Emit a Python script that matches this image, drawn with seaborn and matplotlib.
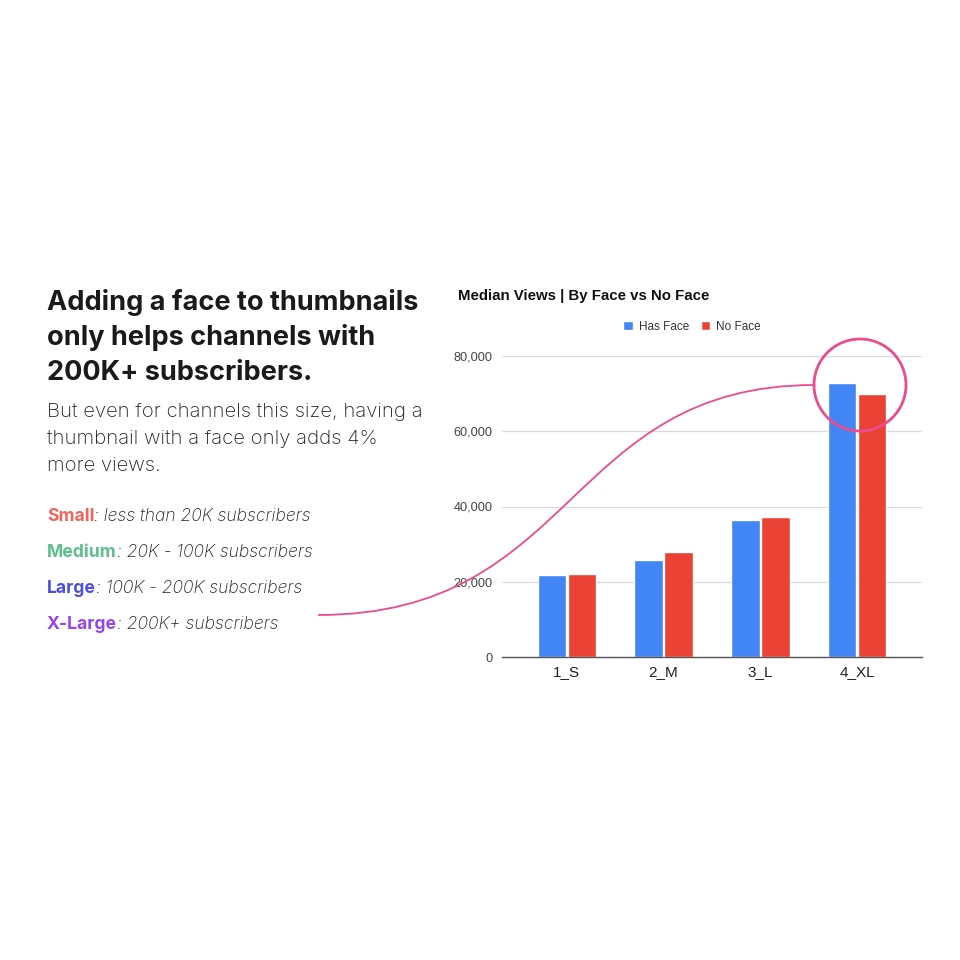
import pandas as pd
import matplotlib.pyplot as plt
import seaborn as sns
from matplotlib.path import Path
from matplotlib.patches import PathPatch, Circle, Patch

# chart data
sizes = ['1_S', '2_M', '3_L', '4_XL']
has_face = [21700, 25800, 36300, 72700]
no_face = [22100, 27900, 37100, 69900]
series = ['Has Face', 'No Face']
colors = ['#4285F4', '#EA4335']
y_ticks = [0, 20000, 40000, 60000, 80000]

# left-hand text
headline = ['Adding a face to thumbnails', 'only helps channels with', '200K+ subscribers.']
body = ['But even for channels this size, having a', 'thumbnail with a face only adds 4%', 'more views.']
size_names = ['Small', 'Medium', 'Large', 'X-Large']
size_ranges = [': less than 20K subscribers', ': 20K - 100K subscribers',
               ': 100K - 200K subscribers', ': 200K+ subscribers']
size_colors = ['#F0645A', '#5DBE8E', '#4B4FE2', '#9744EE']

pink = '#EC4C8C'
W = H = 960.0

df = pd.DataFrame({
    'Size': sizes * 2,
    'Views': has_face + no_face,
    'Type': [series[0]] * len(sizes) + [series[1]] * len(sizes),
})

sns.set_theme(style='white')
plt.rcParams['font.family'] = ['Liberation Sans', 'DejaVu Sans']

fig = plt.figure(figsize=(9.6, 9.6), dpi=100)
fig.patch.set_facecolor('white')
ax = fig.add_axes([502 / W, 1 - 657 / H, 420 / W, 301 / H])

sns.barplot(data=df, x='Size', y='Views', hue='Type', palette=colors,
            width=0.62, gap=0.05, ax=ax, legend=False, saturation=1)
ax.set_xlim(-0.67, 3.67)
ax.set_ylim(0, 80000)
ax.set_yticks(y_ticks)
ax.set_yticklabels([f'{v:,}' for v in y_ticks], fontsize=9.2, color='#444444')
ax.tick_params(axis='x', labelsize=11, colors='#222222', length=0, pad=6)
ax.tick_params(axis='y', length=0, pad=7)
ax.yaxis.grid(True, color='#DADADA', linewidth=0.9)
ax.set_axisbelow(True)
ax.set_xlabel('')
ax.set_ylabel('')
for side in ['left', 'right', 'top']:
    ax.spines[side].set_visible(False)
ax.spines['bottom'].set_color('#555555')
ax.spines['bottom'].set_linewidth(1)

# chart title and legend
fig.text(458 / W, 1 - 296 / H, 'Median Views | By Face vs No Face',
         fontsize=10.8, fontweight='bold', color='#111111', va='center')
handles = [Patch(facecolor=c, label=s) for c, s in zip(colors, series)]
fig.legend(handles=handles, loc='center', bbox_to_anchor=(692 / W, 1 - 327 / H),
           ncol=2, frameon=False, fontsize=8.5, handlelength=0.8, handleheight=0.8,
           handletextpad=0.5, columnspacing=1.0, labelcolor='#333333')

# left text block
head_font = ['Inter', 'DejaVu Sans']
for i, line in enumerate(headline):
    fig.text(47 / W, 1 - (302 + i * 35.5) / H, line, fontsize=19.5, fontweight='bold',
             family=head_font, color='#1A1A1A', va='center')
for i, line in enumerate(body):
    fig.text(47 / W, 1 - (412 + i * 27) / H, line, fontsize=14.6, fontweight='light',
             family=head_font, color='#222222', va='center')
for i, (name, rng, col) in enumerate(zip(size_names, size_ranges, size_colors)):
    t = fig.text(47 / W, 1 - (521 + i * 36) / H, name, fontsize=12.6, fontweight='bold',
                 family=head_font, color=col, va='baseline')
    ax.annotate(rng, xy=(1, 0), xycoords=t, va='bottom', ha='left',
                fontsize=12.6, fontstyle='italic', fontweight='light',
                family=head_font, color='#222222', annotation_clip=False)

# pink annotation curve and circle
p0, p3 = (318, 615), (815, 385)
pts = [p0, (p0[0] + 260, p0[1]), (p3[0] - 250, p3[1]), p3]
verts = [(x / W, 1 - y / H) for x, y in pts]
curve = Path(verts, [Path.MOVETO, Path.CURVE4, Path.CURVE4, Path.CURVE4])
fig.patches.append(PathPatch(curve, transform=fig.transFigure, fill=False,
                             edgecolor=pink, linewidth=1.3, zorder=5))
fig.patches.append(Circle((860 / W, 1 - 385 / H), 46 / W, transform=fig.transFigure,
                          fill=False, edgecolor=pink, linewidth=2.0, zorder=5))

fig.savefig('out.png', dpi=100, facecolor='white')
